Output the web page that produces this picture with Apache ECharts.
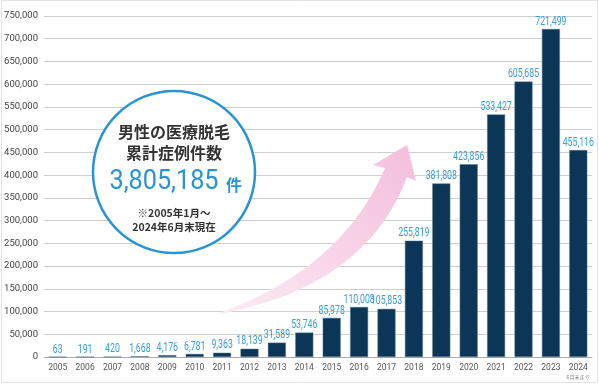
<!DOCTYPE html>
<html><head><meta charset="utf-8">
<script src="https://cdn.jsdelivr.net/npm/echarts@6/dist/echarts.min.js"></script>
<style>html,body{margin:0;padding:0;background:#fff}#c{width:599px;height:384px}</style>
</head><body><div id="c"></div>
<script>
const years = ['2005','2006','2007','2008','2009','2010','2011','2012','2013','2014','2015','2016','2017','2018','2019','2020','2021','2022','2023','2024'];
const cases = [63,191,420,1668,4176,6781,9363,18139,31589,53746,85978,110008,105853,255819,381808,423856,533427,605685,721499,455116];
const yTicks = {min:0, max:750000, interval:50000};
const totalText = '3,805,185';
const num = '"Roboto","Noto Sans",sans-serif';
const jp = '"Noto Sans CJK JP","Noto Sans CJK SC",sans-serif';

function cubic(p0,p1,p2,p3,n){
  const pts=[];
  for(let i=0;i<=n;i++){const t=i/n,u=1-t;
    pts.push([u*u*u*p0[0]+3*u*u*t*p1[0]+3*u*t*t*p2[0]+t*t*t*p3[0],
              u*u*u*p0[1]+3*u*u*t*p1[1]+3*u*t*t*p2[1]+t*t*t*p3[1]]);}
  return pts;
}
const upper = cubic([213,315],[280,292],[350,250],[385,168],30);
const lower = cubic([407,177],[375,262],[300,300],[213,315],30);
const arrowPts = upper.concat([[373,165],[407,145],[416,181]]).concat(lower);

const chart = echarts.init(document.getElementById('c'), null, {renderer:'canvas'});
chart.setOption({
  animation:false,
  backgroundColor:'#fff',
  grid:{left:44,right:7,top:16,bottom:27},
  xAxis:{type:'category',data:years,
    axisLine:{lineStyle:{color:'#aaa'}},axisTick:{show:false},
    axisLabel:{color:'#555',fontSize:8.5,fontFamily:num,margin:6,interval:0}},
  yAxis:{type:'value',min:yTicks.min,max:yTicks.max,interval:yTicks.interval,
    axisLine:{show:false},axisTick:{show:false},
    splitLine:{lineStyle:{color:'#cfcfcf',width:1}},
    axisLabel:{color:'#444',fontSize:9.5,fontFamily:num,margin:6,
      formatter:v=>v.toLocaleString('en-US')}},
  series:[
    {type:'bar',data:cases,barWidth:18,
      itemStyle:{color:'#0b3657',borderColor:'#5a7a95',borderWidth:0.5}},
    {type:'custom',data:cases.map((v,i)=>[i,v]),z:10,
      renderItem:(params,api)=>{
        const p = api.coord([api.value(0), api.value(1)]);
        return {type:'text',x:p[0],y:p[1]-1,scaleX:0.7,
          style:{text:api.value(1).toLocaleString('en-US'),fill:'#3a9ddc',
            font:'12.5px '+num,align:'center',verticalAlign:'bottom'}};
      }}
  ],
  graphic:[
    {type:'rect',shape:{x:1.5,y:0.5,width:596,height:382},style:{fill:null,stroke:'#e2e2e2',lineWidth:1},z:1,silent:true},
    {type:'polygon',z:50,shape:{points:arrowPts},
      style:{fill:{type:'linear',x:0,y:1,x2:1,y2:0,colorStops:[{offset:0,color:'#fcecf4'},{offset:1,color:'#f4bedb'}]}}},
    {type:'circle',z:60,shape:{cx:174,cy:172,r:81},style:{fill:'#fff',stroke:'#2a93d5',lineWidth:2.5}},
    {type:'text',z:61,x:174,y:132,style:{text:'男性の医療脱毛',fill:'#333',font:'bold 16px '+jp,align:'center',verticalAlign:'middle'}},
    {type:'text',z:61,x:174,y:153,style:{text:'累計症例件数',fill:'#333',font:'bold 16px '+jp,align:'center',verticalAlign:'middle'}},
    {type:'text',z:61,x:164,y:182,scaleX:0.9,style:{text:totalText,fill:'#2a93d5',font:'28px '+num,align:'center',verticalAlign:'middle'}},
    {type:'text',z:61,x:234,y:185,style:{text:'件',fill:'#2a93d5',font:'bold 16px '+jp,align:'center',verticalAlign:'middle'}},
    {type:'text',z:61,x:174,y:213,style:{text:'※2005年1月～',fill:'#333',font:'bold 10.5px '+jp,align:'center',verticalAlign:'middle'}},
    {type:'text',z:61,x:174,y:227,style:{text:'2024年6月末現在',fill:'#333',font:'bold 10.5px '+jp,align:'center',verticalAlign:'middle'}},
    {type:'text',z:61,x:578,y:377,style:{text:'6月末まで',fill:'#777',font:'5px '+jp,align:'center',verticalAlign:'middle'}}
  ]
});
</script></body></html>
